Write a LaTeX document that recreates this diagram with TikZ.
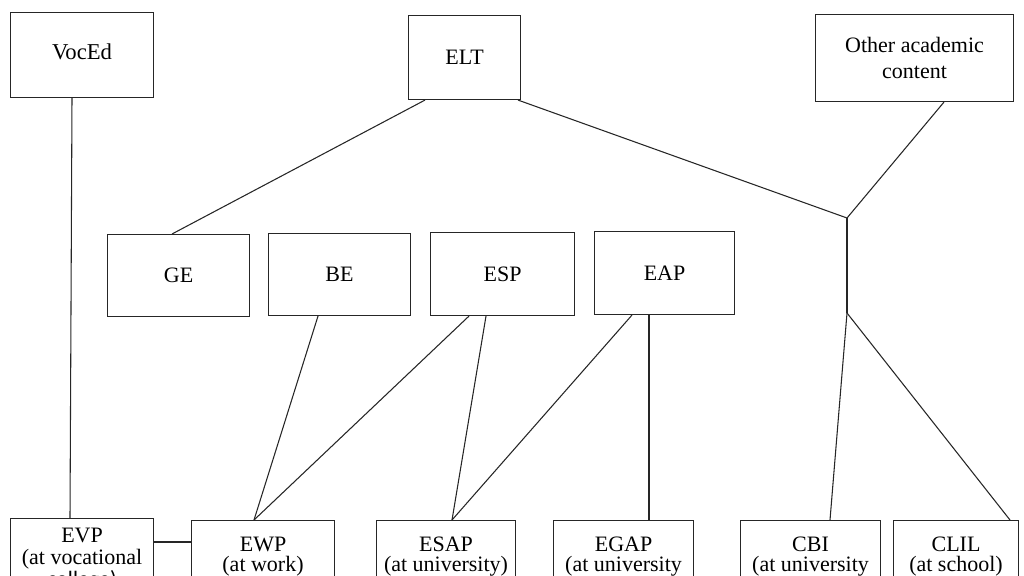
\documentclass[tikz,border=0pt]{standalone}
\usepackage{fontspec}
\setmainfont{Liberation Serif}
\newfontfamily\calib{Carlito}
\begin{document}
\begin{tikzpicture}[x=0.75pt,y=-0.75pt,
  box/.style={draw=black!85,line width=0.8pt,anchor=north west,inner sep=0pt,align=center,font=\fontsize{16.5}{15.5}\selectfont},
  link/.style={draw=black!85,line width=0.8pt}]
\useasboundingbox (0,0) rectangle (1024,575);
\clip (0,0) rectangle (1024,575);
% top row
\node[box,minimum width=143*0.75pt,minimum height=85*0.75pt] (voced) at (10,12) {\raisebox{5pt}{\fontsize{17}{15}\selectfont VocEd}};
\node[box,minimum width=112*0.75pt,minimum height=84*0.75pt] (elt) at (408,15) {ELT};
\node[box,minimum width=198*0.75pt,minimum height=87*0.75pt,font=\fontsize{16.5}{19.5}\selectfont] (other) at (815,14) {Other academic\\content};
% middle row
\node[box,minimum width=142*0.75pt,minimum height=82*0.75pt] (ge) at (107,234) {GE};
\node[box,minimum width=142*0.75pt,minimum height=82*0.75pt] (be) at (268,233) {BE};
\node[box,minimum width=144*0.75pt,minimum height=83*0.75pt] (esp) at (430,232) {ESP};
\node[box,minimum width=140*0.75pt,minimum height=83*0.75pt] (eap) at (594,231) {EAP};
% bottom row
\node[box,minimum width=143*0.75pt,minimum height=82*0.75pt,font=\fontsize{16.5}{16.5}\selectfont] (evp) at (10,518) {EVP\\(at vocational\\{\calib college)}};
\node[box,minimum width=143*0.75pt,minimum height=72*0.75pt] (ewp) at (191,520) {EWP\\(at work)};
\node[box,minimum width=139*0.75pt,minimum height=72*0.75pt] (esap) at (376,520) {ESAP\\(at university)};
\node[box,minimum width=140*0.75pt,minimum height=72*0.75pt] (egap) at (553,520) {EGAP\\(at university};
\node[box,minimum width=140*0.75pt,minimum height=72*0.75pt] (cbi) at (740,520) {CBI\\(at university};
\node[box,minimum width=125*0.75pt,minimum height=72*0.75pt] (clil) at (893,520) {CLIL\\(at school)};
% junctions
\coordinate (j1) at (847,218);
\coordinate (j2) at (847,313);
% connectors
\draw[link] (voced.south -| 72,0) -- (evp.north -| 70,0);
\draw[link] (elt.south -| 425,0) -- (ge.north -| 172,0);
\draw[link] (elt.south -| 518,0) -- (j1);
\draw[link] (other.south -| 944,0) -- (j1);
\draw[link] (j1) -- (j2);
\draw[link] (j2) -- (cbi.north -| 830,0);
\draw[link] (j2) -- (clil.north -| 1010,0);
\draw[link] (be.south -| 318,0) -- (ewp.north -| 254,0);
\draw[link] (esp.south -| 469,0) -- (ewp.north -| 254,0);
\draw[link] (esp.south -| 486,0) -- (esap.north -| 452,0);
\draw[link] (eap.south -| 632,0) -- (esap.north -| 452,0);
\draw[link] (eap.south -| 649,0) -- (egap.north -| 649,0);
\draw[link] (evp.east |- 0,542) -- (ewp.west |- 0,542);
\end{tikzpicture}
\end{document}
